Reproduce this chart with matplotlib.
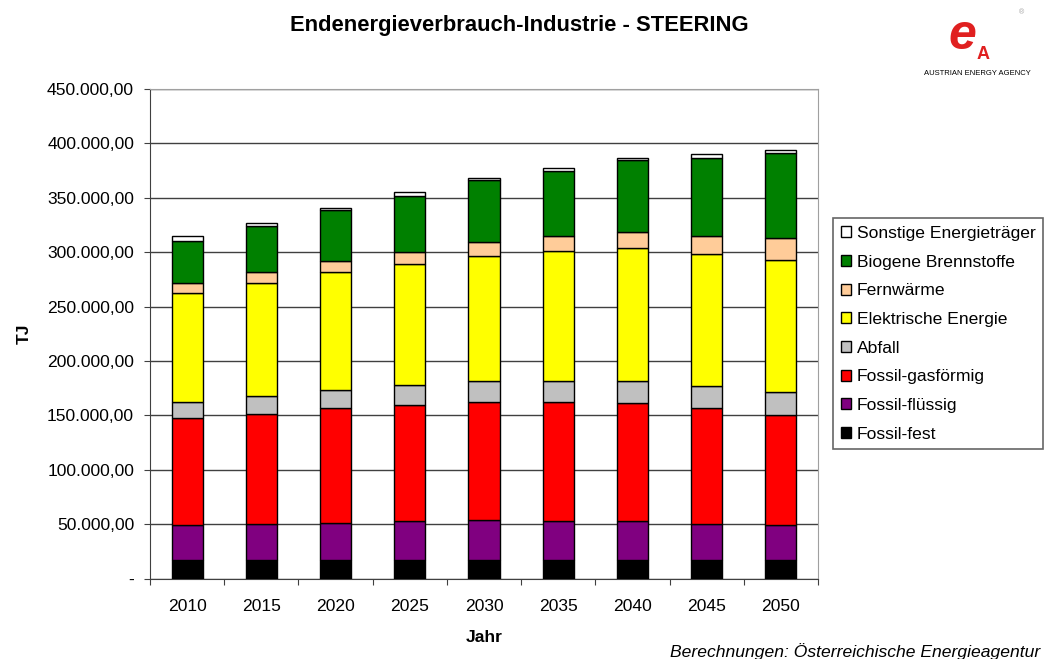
import numpy as np
import matplotlib
matplotlib.use("Agg")
from matplotlib import pyplot as plt
from matplotlib.ticker import FuncFormatter, FixedLocator

plt.rcParams['font.family'] = ['Liberation Sans', 'DejaVu Sans']

### Daten (TJ)
jahre = ["2010", "2015", "2020", "2025", "2030", "2035", "2040", "2045", "2050"]

fossil_fest = [17000, 17000, 17000, 17000, 17000, 17000, 17000, 17000, 17000]
fossil_fluessig = [32100, 33300, 34500, 35800, 37000, 35800, 35800, 33300, 32100]
fossil_gas = [98700, 101200, 105300, 106400, 108800, 110000, 108800, 106500, 101500]
abfall = [15000, 16600, 16200, 19000, 19100, 19100, 20300, 20500, 21200]
elektrisch = [100000, 103700, 108900, 111300, 115000, 118900, 121700, 121100, 121400]
fernwaerme = [9200, 10100, 10100, 11100, 12600, 13800, 14700, 16900, 20000]
biogen = [38700, 42600, 46600, 51500, 56400, 60200, 66600, 71700, 77800]
sonstige = [3900, 2700, 2400, 3000, 2700, 2400, 2100, 2800, 2500]

serien = [
    ("Fossil-fest", fossil_fest, "#000000"),
    ("Fossil-flüssig", fossil_fluessig, "#800080"),
    ("Fossil-gasförmig", fossil_gas, "#ff0000"),
    ("Abfall", abfall, "#c0c0c0"),
    ("Elektrische Energie", elektrisch, "#ffff00"),
    ("Fernwärme", fernwaerme, "#ffcc99"),
    ("Biogene Brennstoffe", biogen, "#008000"),
    ("Sonstige Energieträger", sonstige, "#ffffff"),
]

fig = plt.figure(figsize=[10.44, 6.59], dpi=100, facecolor="white")
ax = fig.add_axes([0.1437, 0.1219, 0.6398, 0.7431])

x = np.arange(len(jahre))
unten = np.zeros(len(jahre))
for name, werte, farbe in serien:
    ax.bar(x, werte, width=0.42, bottom=unten, color=farbe, edgecolor="black",
           linewidth=1, label=name, zorder=3)
    unten += np.array(werte)

ax.set_xlim(-0.5, len(jahre) - 0.5)
ax.set_ylim(0, 450000)
ax.yaxis.set_major_locator(FixedLocator(np.arange(0, 450001, 50000)))


def fmt(v, pos):
    if v == 0:
        return "-"
    return f"{v:,.2f}".replace(",", "X").replace(".", ",").replace("X", ".")


ax.yaxis.set_major_formatter(FuncFormatter(fmt))
ax.grid(True, axis="y", color="#404040", linewidth=1, zorder=0)

# Striche zwischen den Kategorien, Beschriftung in der Mitte
ax.set_xticks(np.arange(-0.5, len(jahre)), [""] * (len(jahre) + 1))
ax.set_xticks(x, jahre, minor=True)
ax.tick_params(axis="x", which="major", length=4.5, color="#404040", direction="out")
ax.tick_params(axis="x", which="minor", length=0, pad=14.5, labelsize=12.6)
ax.tick_params(axis="y", length=4.5, color="#404040", labelsize=12.6, pad=7)

for s in ["left", "bottom"]:
    ax.spines[s].set_color("#404040")
for s in ["top", "right"]:
    ax.spines[s].set_color("#a0a0a0")

ax.set_xlabel("Jahr", fontsize=12.6, fontweight="bold", labelpad=12)
ax.set_ylabel("TJ", fontsize=12.6, fontweight="bold", labelpad=11)

fig.text(0.497, 0.962, "Endenergieverbrauch-Industrie - STEERING", ha="center", va="center",
         fontsize=15.8, fontweight="bold")

handles, labels = ax.get_legend_handles_labels()
leg = fig.legend(handles[::-1], labels[::-1], loc="upper left", bbox_to_anchor=(0.798, 0.669),
                 fontsize=12.6, frameon=True, fancybox=False, edgecolor="#404040",
                 handlelength=0.6, handleheight=0.6, handletextpad=0.3, labelspacing=0.78,
                 borderpad=0.45, borderaxespad=0)
leg.get_frame().set_linewidth(1.2)

# Logo
fig.text(0.922, 0.945, "e", color="#e02020", fontsize=36, fontweight="bold", style="italic",
         ha="center", va="center")
fig.text(0.942, 0.918, "A", color="#e02020", fontsize=13, fontweight="bold",
         ha="center", va="center")
fig.text(0.978, 0.98, "®", color="#a0a0a0", fontsize=5, ha="center", va="center")
fig.text(0.936, 0.889, "AUSTRIAN ENERGY AGENCY", fontsize=5.5, ha="center", va="center")

fig.text(0.996, 0.012, "Berechnungen: Österreichische Energieagentur", fontsize=12.6,
         style="italic", ha="right", va="center")

plt.savefig("out.png", dpi=100, facecolor="white")
